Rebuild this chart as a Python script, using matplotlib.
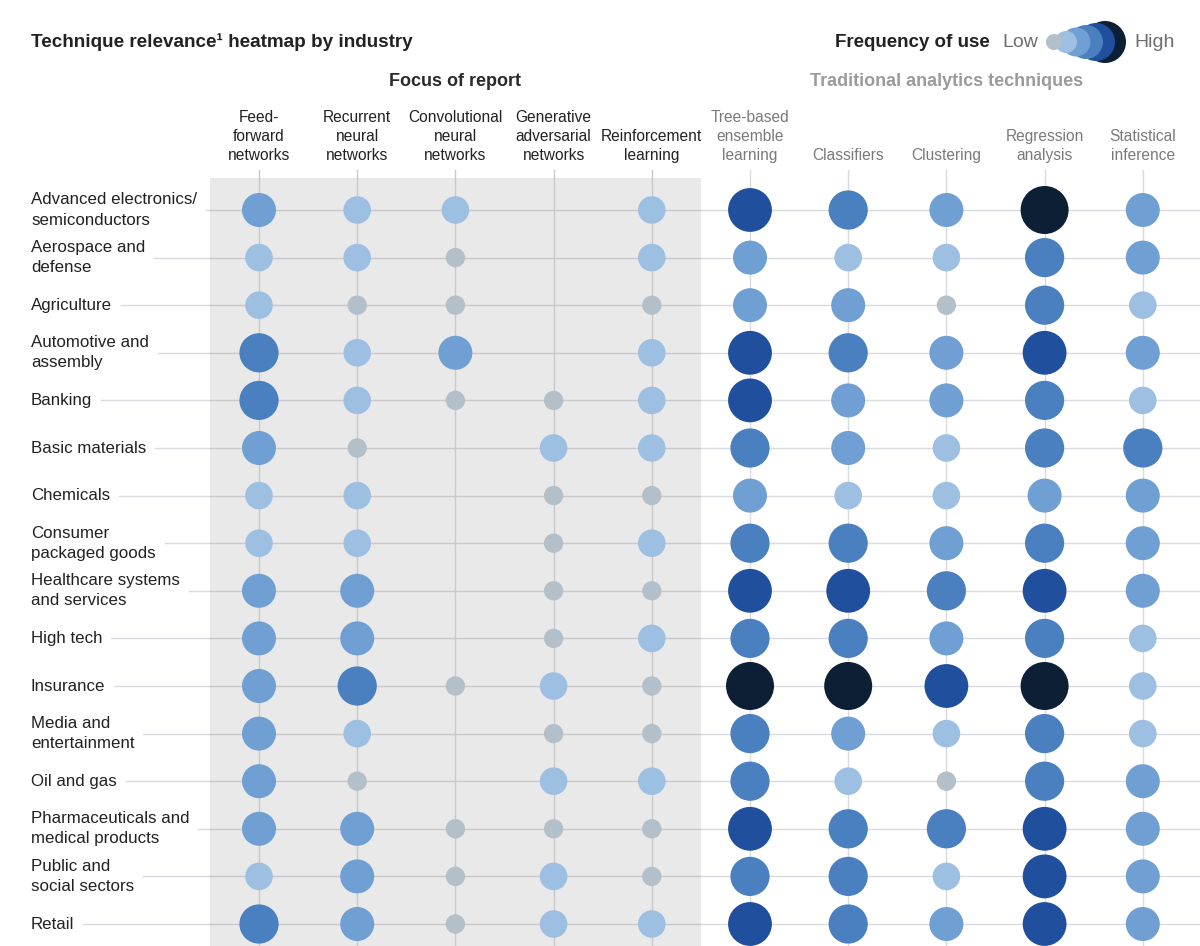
import matplotlib
matplotlib.use('Agg')
import matplotlib.pyplot as plt
from matplotlib.patches import Rectangle
import numpy as np

plt.rcParams['font.family'] = ['Liberation Sans', 'DejaVu Sans']

# ---------------- data ----------------
industries = [
    "Advanced electronics/\nsemiconductors",
    "Aerospace and\ndefense",
    "Agriculture",
    "Automotive and\nassembly",
    "Banking",
    "Basic materials",
    "Chemicals",
    "Consumer\npackaged goods",
    "Healthcare systems\nand services",
    "High tech",
    "Insurance",
    "Media and\nentertainment",
    "Oil and gas",
    "Pharmaceuticals and\nmedical products",
    "Public and\nsocial sectors",
    "Retail",
]
techniques = [
    "Feed-\nforward\nnetworks",
    "Recurrent\nneural\nnetworks",
    "Convolutional\nneural\nnetworks",
    "Generative\nadversarial\nnetworks",
    "Reinforcement\nlearning",
    "Tree-based\nensemble\nlearning",
    "Classifiers",
    "Clustering",
    "Regression\nanalysis",
    "Statistical\ninference",
]
# frequency of use level: 0 = none, 1 = low ... 6 = high
feed_forward   = [3, 2, 2, 4, 4, 3, 2, 2, 3, 3, 3, 3, 3, 3, 2, 4]
recurrent      = [2, 2, 1, 2, 2, 1, 2, 2, 3, 3, 4, 2, 1, 3, 3, 3]
convolutional  = [2, 1, 1, 3, 1, 0, 0, 0, 0, 0, 1, 0, 0, 1, 1, 1]
generative     = [0, 0, 0, 0, 1, 2, 1, 1, 1, 1, 2, 1, 2, 1, 2, 2]
reinforcement  = [2, 2, 1, 2, 2, 2, 1, 2, 1, 2, 1, 1, 2, 1, 1, 2]
tree_based     = [5, 3, 3, 5, 5, 4, 3, 4, 5, 4, 6, 4, 4, 5, 4, 5]
classifiers    = [4, 2, 3, 4, 3, 3, 2, 4, 5, 4, 6, 3, 2, 4, 4, 4]
clustering     = [3, 2, 1, 3, 3, 2, 2, 3, 4, 3, 5, 2, 1, 4, 2, 3]
regression     = [6, 4, 4, 5, 4, 4, 3, 4, 5, 4, 6, 4, 4, 5, 5, 5]
statistical    = [3, 3, 2, 3, 2, 4, 3, 3, 3, 2, 2, 2, 3, 3, 3, 3]
legend_levels  = [1, 2, 3, 4, 5, 6]

# ---------------- style ----------------
level_colors = {1: '#b4c0c9', 2: '#9dbfe2', 3: '#6f9fd3', 4: '#4a80c0',
                5: '#1f4f9d', 6: '#0d1f35'}
level_radius_px = {1: 9.7, 2: 13.8, 3: 17.0, 4: 19.6, 5: 21.9, 6: 24.0}
legend_radius_px = {1: 8, 2: 11, 3: 14.5, 4: 17, 5: 19, 6: 21}
legend_center_px = [1054, 1066, 1076, 1086, 1096, 1105]

W, H = 1200, 946
fig = plt.figure(figsize=(12, 9.46), dpi=100)
ax = fig.add_axes([0, 0, 1, 1])
col_px0, col_dx = 259.0, 98.2
row_py0, row_dy = 210.0, 47.6
ax.set_xlim(-col_px0 / col_dx, (W - col_px0) / col_dx)
ax.set_ylim((H - row_py0) / row_dy, -row_py0 / row_dy)
ax.axis('off')


def X(px):
    return (px - col_px0) / col_dx


def Y(py):
    return (py - row_py0) / row_dy


def s_of(r_px):
    return (2 * r_px * 72 / 100) ** 2


n_focus = 5
band_l, band_r = -0.5, n_focus - 0.5
ax.add_patch(Rectangle((band_l, Y(178)), band_r - band_l, Y(960) - Y(178),
                       facecolor='#e9e9e9', edgecolor='none', zorder=0))

# vertical lines
for j in range(len(techniques)):
    col = '#c9c9c9' if j < n_focus else '#d8dbdf'
    ax.plot([j, j], [Y(170), Y(H + 5)], color=col, lw=1, zorder=1)

# row labels
label_texts = []
for i, name in enumerate(industries):
    t = ax.text(X(31), i, name, ha='left', va='center', fontsize=12.2,
                color='#222222', linespacing=1.42)
    label_texts.append(t)

fig.canvas.draw()
renderer = fig.canvas.get_renderer()
inv = ax.transData.inverted()
for i, t in enumerate(label_texts):
    bb = t.get_window_extent(renderer)
    x_end = inv.transform((bb.x1 + 9, 0))[0]
    ax.plot([x_end, band_l], [i, i], color='#d8dbdf', lw=1, zorder=1)
    ax.plot([band_l, band_r], [i, i], color='#c9c9c9', lw=1, zorder=1)
    ax.plot([band_r, X(W + 5)], [i, i], color='#d8dbdf', lw=1, zorder=1)

# circles
data = np.array([feed_forward, recurrent, convolutional, generative, reinforcement,
                 tree_based, classifiers, clustering, regression, statistical]).T
rows, cols = np.nonzero(data)
lv = data[rows, cols]
ax.scatter(cols, rows, s=[s_of(level_radius_px[v]) for v in lv],
           c=[level_colors[v] for v in lv], edgecolors='none', zorder=3)

# column headers
for j, name in enumerate(techniques):
    ax.text(j, Y(163), name, ha='center', va='bottom', fontsize=11.2,
            color='#222222' if j < n_focus else '#7a7a7a', linespacing=1.32,
            multialignment='center')

# section headers
ax.text((band_l + band_r) / 2, Y(81), "Focus of report", ha='center', va='center',
        fontsize=13, fontweight='bold', color='#2a2a2a')
ax.text(7.0, Y(81), "Traditional analytics techniques", ha='center', va='center',
        fontsize=13, fontweight='bold', color='#9b9b9b')

# title
ax.text(X(31), Y(42), "Technique relevance\u00b9 heatmap by industry", ha='left',
        va='center', fontsize=13.6, fontweight='bold', color='#222222')

# legend
ax.text(X(990), Y(42), "Frequency of use", ha='right', va='center', fontsize=13.5,
        fontweight='bold', color='#222222')
ax.text(X(1002), Y(42), "Low", ha='left', va='center', fontsize=14, color='#6e6e6e')
ax.text(X(1134), Y(42), "High", ha='left', va='center', fontsize=14, color='#6e6e6e')
for k, v in enumerate(legend_levels):
    ax.scatter([X(legend_center_px[k])], [Y(42)], s=s_of(legend_radius_px[v]),
               c=level_colors[v], edgecolors='none', zorder=10 - k)

fig.savefig('out.png', dpi=100, facecolor='white')
